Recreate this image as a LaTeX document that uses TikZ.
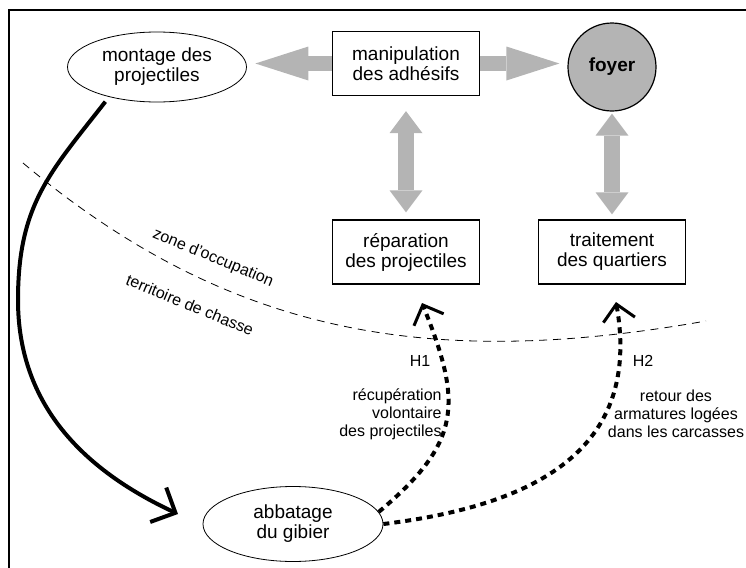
\documentclass[tikz,border=0pt]{standalone}
\usepackage{fontspec}
\setmainfont{Liberation Sans}
\usetikzlibrary{shapes.geometric,arrows.meta}
\definecolor{arrowgray}{RGB}{180,180,180}
\newcommand{\etape}[3]{\node[etapebox] (#1) at (#2) {#3};}

\begin{document}
\begin{tikzpicture}[
      x=0.5pt, y=0.5pt,
      every node/.style={font=\fontsize{9.5}{10}\selectfont, align=center, inner sep=0pt},
      etapebox/.style={rectangle, draw=black, line width=0.6pt, minimum width=73.5pt, minimum height=32pt},
      lieu/.style={ellipse, draw=black, line width=0.4pt, minimum width=90pt, minimum height=36pt},
      note/.style={font=\fontsize{8}{9}\selectfont},
      grayarrow/.style={draw=arrowgray, line width=7.5pt, -{Triangle[length=26.5pt,width=17pt,line width=0pt]}},
      dgrayarrow/.style={draw=arrowgray, line width=8pt,
        {Triangle[length=11pt,width=16.5pt,line width=0pt]}-{Triangle[length=11pt,width=16.5pt,line width=0pt]}},
      chasse/.style={line width=2pt, -{Straight Barb[length=9.5pt,width=19pt,line width=2pt]}},
      retour/.style={line width=2pt, dash pattern=on 3pt off 2.5pt, -{Straight Barb[length=8pt,width=16pt,line width=1.5pt]}},
      limite/.style={line width=0.4pt, dash pattern=on 4pt off 3pt}
      ]
      \useasboundingbox (0,0) rectangle (746,-568);
      \draw[line width=0.8pt] (9,-568) |- (746,-10);

      % lieux et etapes
      \node[lieu, minimum width=89.5pt, minimum height=35pt] (montage) at (157,-67) {montage des\\projectiles};
      \etape{manip}{406,-63.5}{manipulation\\des adhésifs}
      \node[circle, draw=black, line width=0.6pt, fill=arrowgray, minimum size=44pt,
        font=\fontsize{9.5}{10}\selectfont\bfseries] (foyer) at (612,-67) {foyer};
      \etape{repar}{406,-252}{réparation\\des projectiles}
      \etape{traite}{612,-252}{traitement\\des quartiers}
      \node[lieu, minimum height=37.5pt] (abbat) at (293,-524) {abbatage\\du gibier};

      % fleches grises
      \draw[grayarrow, shorten >=4.25pt] (manip.west) -- (montage.east |- manip.west);
      \draw[grayarrow, shorten >=4pt] (manip.east) -- (foyer.west |- manip.east);
      \draw[dgrayarrow, shorten <=7.5pt, shorten >=3.5pt] (manip.south) -- (repar.north);
      \draw[dgrayarrow, shorten <=1pt, shorten >=2.5pt] (foyer.south) -- (traite.north);

      % limite des zones
      \draw[limite] (23,-163) to[out=-40,in=190] (706,-321);
      \node[note, rotate=-22.5] (zone) at (213,-258) {zone d'occupation};
      \node[note, rotate=-22.5] (territoire) at (190,-305) {territoire de chasse};

      % trajets
      \coordinate (detour) at (18,-300);
      \coordinate (chassefin) at (178,-514);
      \coordinate (h1fin) at (422,-303);
      \coordinate (h2fin) at (616,-302);
      \draw[chasse, shorten <=3pt] (montage.212) to[out=232,in=90,looseness=1.1] (detour) to[out=-90,in=155] (chassefin);
      \draw[retour] (abbat.8) to[out=40,in=-68,looseness=1.3] (h1fin);
      \draw[retour] (abbat.east) to[out=7,in=-80,looseness=1.2] (h2fin);

      \node[note] (h1) at (420,-361) {H1};
      \node[note, align=right, anchor=east] (h1txt) at (442,-414) {récupération\\volontaire\\des projectiles};
      \node[note] (h2) at (643,-361) {H2};
      \node[note] (h2txt) at (676,-414) {retour des\\armatures logées\\dans les carcasses};
    \end{tikzpicture}
\end{document}
